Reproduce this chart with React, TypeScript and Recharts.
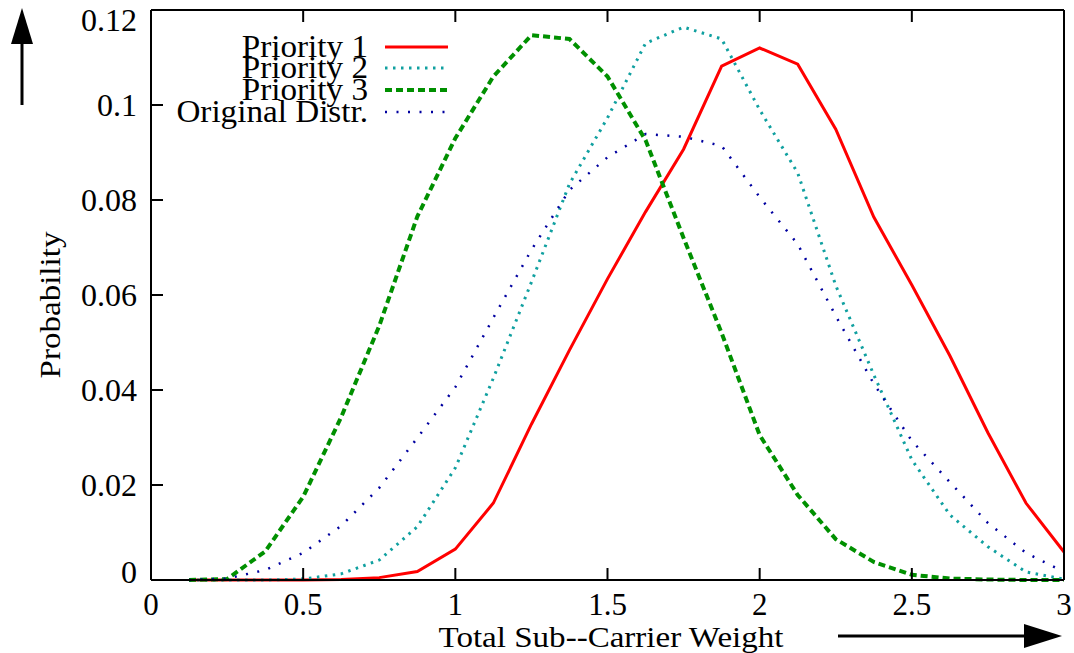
import React from 'react';
import { LineChart, Line, XAxis, YAxis, Legend } from 'recharts';

// x positions (total sub-carrier weight)
const WEIGHTS = [
  0.125, 0.25, 0.375, 0.5, 0.625, 0.75, 0.875, 1, 1.125, 1.25, 1.375, 1.5,
  1.625, 1.75, 1.875, 2, 2.125, 2.25, 2.375, 2.5, 2.625, 2.75, 2.875, 3,
];

const PRIORITY_1 = [
  0, 0, 0, 0, 0.0001, 0.0005, 0.0018, 0.0065, 0.0162, 0.0328, 0.0484, 0.0634,
  0.0775, 0.0907, 0.1082, 0.112, 0.1086, 0.0949, 0.0764, 0.0621, 0.0472, 0.031, 0.0162, 0.0059,
];
const PRIORITY_2 = [
  0, 0, 0, 0.0002, 0.0013, 0.0042, 0.0112, 0.0236, 0.0425, 0.0627, 0.0834, 0.0973,
  0.113, 0.1164, 0.1139, 0.099, 0.0857, 0.062, 0.0432, 0.0253, 0.0137, 0.007, 0.0017, 0.0002,
];
const PRIORITY_3 = [
  0, 0.0002, 0.006, 0.0175, 0.0343, 0.0535, 0.0765, 0.093, 0.106, 0.1147, 0.1139, 0.106,
  0.0926, 0.072, 0.052, 0.0305, 0.0179, 0.0086, 0.0038, 0.0011, 0.0003, 0.0001, 0, 0,
];
const ORIGINAL = [
  0, 0.0003, 0.0021, 0.0057, 0.0114, 0.0194, 0.0299, 0.0406, 0.0552, 0.0695, 0.0821, 0.089,
  0.0939, 0.0933, 0.0914, 0.0806, 0.0707, 0.0556, 0.0413, 0.0293, 0.0206, 0.012, 0.0057, 0.0017,
];

const X_TICKS = [0, 0.5, 1, 1.5, 2, 2.5, 3];
const Y_TICKS = [0, 0.02, 0.04, 0.06, 0.08, 0.1, 0.12];

const SERIES = [
  { key: 'p1', name: 'Priority 1', color: '#ff0000', width: 3, dash: undefined },
  { key: 'p2', name: 'Priority 2', color: '#10a0a0', width: 3, dash: '2.5 5.5' },
  { key: 'p3', name: 'Priority 3', color: '#009000', width: 4, dash: '7 4' },
  { key: 'orig', name: 'Original Distr.', color: '#0000a0', width: 2.5, dash: '2 9.5' },
];

const data = WEIGHTS.map((x, i) => ({
  x,
  p1: PRIORITY_1[i],
  p2: PRIORITY_2[i],
  p3: PRIORITY_3[i],
  orig: ORIGINAL[i],
}));

const W = 1074;
const H = 653;
const LEFT = 151;
const RIGHT = 1064;
const TOP = 10;
const BOTTOM = 580;
const TICK = 12;

const FONT = "'Liberation Serif', 'DejaVu Serif', serif";

function Txt({ x, y, anchor = 'start', rotate, size = 29, sx = 1.14, children }: any) {
  const t = `translate(${x},${y})${rotate ? ` rotate(${rotate})` : ''} scale(${sx},1)`;
  return (
    <text
      transform={t}
      textAnchor={anchor}
      style={{ fontFamily: FONT, fontSize: size }}
      fill="#000"
    >
      {children}
    </text>
  );
}

const bottomTick = (props: any) => (
  <g>
    <line x1={props.x} x2={props.x} y1={BOTTOM} y2={BOTTOM - TICK} stroke="#000" strokeWidth={2} />
    <Txt x={props.x} y={BOTTOM + 35} anchor="middle" size={31} sx={1}>
      {String(props.payload.value)}
    </Txt>
  </g>
);

const topTick = (props: any) => (
  <line x1={props.x} x2={props.x} y1={TOP} y2={TOP + TICK} stroke="#000" strokeWidth={2} />
);

const leftTick = (props: any) => {
  const v = props.payload.value;
  // gnuplot nudges the end labels inside the frame
  const shift = v >= 0.12 ? 10 : v === 0 ? -8 : 0;
  return (
    <g>
      <line x1={LEFT} x2={LEFT + TICK} y1={props.y} y2={props.y} stroke="#000" strokeWidth={2} />
      <Txt x={137} y={props.y + 11 + shift} anchor="end" size={32} sx={1}>
        {String(v)}
      </Txt>
    </g>
  );
};

const rightTick = (props: any) => (
  <line x1={RIGHT} x2={RIGHT - TICK} y1={props.y} y2={props.y} stroke="#000" strokeWidth={2} />
);

function renderLegend() {
  const rows = [57, 78, 100, 122];
  return (
    <svg width={480} height={140}>
      {SERIES.map((s, i) => (
        <g key={s.key}>
          <Txt x={368} y={rows[i]} anchor="end" size={31} sx={1.07}>{s.name}</Txt>
          <line
            x1={385}
            x2={448}
            y1={rows[i] - 10}
            y2={rows[i] - 10}
            stroke={s.color}
            strokeWidth={s.width}
            strokeDasharray={s.dash}
          />
        </g>
      ))}
    </svg>
  );
}

export default function App() {
  return (
    <div style={{ position: 'absolute', left: 0, top: 0, width: W, height: H, background: '#fff' }}>
      <LineChart
        width={W}
        height={H}
        data={data}
        margin={{ top: TOP - 1, right: W - RIGHT - 1, bottom: 33, left: 0 }}
      >
        <XAxis
          dataKey="x"
          type="number"
          domain={[0, 3]}
          ticks={X_TICKS}
          height={40}
          axisLine={{ stroke: '#000', strokeWidth: 2 }}
          tickLine={false}
          tick={bottomTick}
          interval={0}
        />
        <XAxis
          xAxisId="top"
          dataKey="x"
          type="number"
          orientation="top"
          domain={[0, 3]}
          ticks={X_TICKS}
          height={1}
          axisLine={{ stroke: '#000', strokeWidth: 2 }}
          tickLine={false}
          tick={topTick}
          interval={0}
        />
        <YAxis
          type="number"
          domain={[0, 0.12]}
          ticks={Y_TICKS}
          width={LEFT}
          axisLine={{ stroke: '#000', strokeWidth: 2 }}
          tickLine={false}
          tick={leftTick}
          interval={0}
        />
        <YAxis
          yAxisId="right"
          orientation="right"
          type="number"
          domain={[0, 0.12]}
          ticks={Y_TICKS}
          width={1}
          axisLine={{ stroke: '#000', strokeWidth: 2 }}
          tickLine={false}
          tick={rightTick}
          interval={0}
        />
        <Legend
          layout="horizontal"
          verticalAlign="middle"
          align="center"
          wrapperStyle={{ left: 0, top: 0, width: 480, height: 140 }}
          content={renderLegend}
        />
        {SERIES.map((s) => (
          <Line
            key={s.key}
            type="linear"
            dataKey={s.key}
            name={s.name}
            stroke={s.color}
            strokeWidth={s.width}
            strokeDasharray={s.dash}
            dot={false}
            activeDot={false}
            isAnimationActive={false}
          />
        ))}
      </LineChart>
      <svg
        width={W}
        height={H}
        style={{ position: 'absolute', left: 0, top: 0, pointerEvents: 'none' }}
      >
        {/* y label and direction arrow */}
        <Txt x={60} y={305} anchor="middle" rotate={-90}>Probability</Txt>
        <line x1={22} x2={22} y1={105} y2={40} stroke="#000" strokeWidth={3} />
        <polygon points="22,8 11,44 33,44" fill="#000" />
        {/* x label and direction arrow */}
        <Txt x={611} y={647} anchor="middle">Total Sub--Carrier Weight</Txt>
        <line x1={838} x2={1030} y1={636} y2={636} stroke="#000" strokeWidth={3} />
        <polygon points="1062,636 1024,624 1024,648" fill="#000" />
      </svg>
    </div>
  );
}
